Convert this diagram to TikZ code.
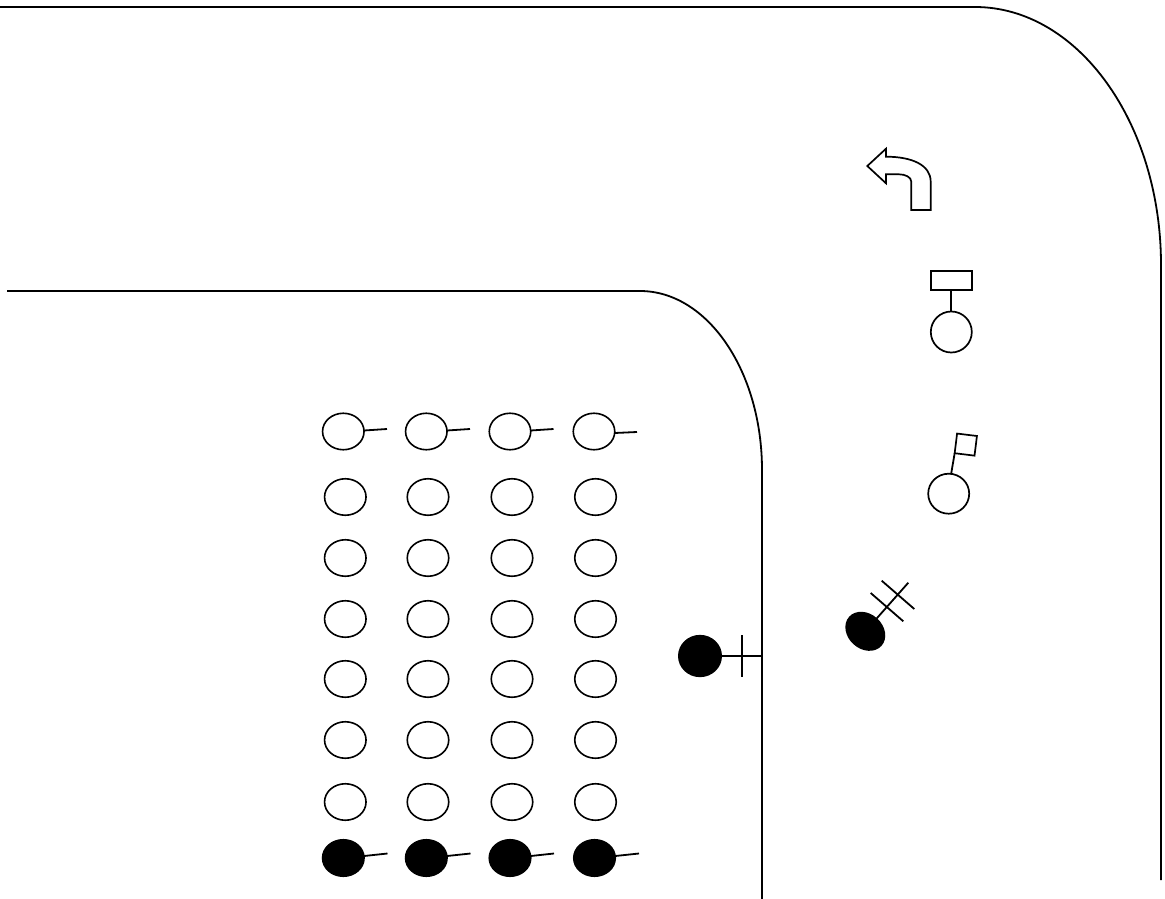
\documentclass[tikz,border=0pt]{standalone}
\usetikzlibrary{shapes.geometric}
\tikzset{
  ln/.style={line width=1.8pt,black},
  cell/.style={ellipse,draw=black,line width=1.6pt,fill=white,minimum width=41.5pt,minimum height=36.5pt,inner sep=0pt,outer sep=0pt},
  blackcell/.style={cell,fill=black},
  sign/.style={draw=black,line width=1.7pt,fill=white,inner sep=0pt,outer sep=0pt},
}
\begin{document}
\begin{tikzpicture}[x=1pt,y=-1pt]
\useasboundingbox (0,0) rectangle (1165,899);
% road edges
\draw[ln] (0,7) -- (975,7) arc[start angle=-90,end angle=0,x radius=186,y radius=258] -- (1161,880);
\draw[ln] (7,291) -- (640,291) arc[start angle=-90,end angle=0,x radius=122,y radius=179] -- (762,899);
% top row
\foreach \n/\x/\ex/\sy/\ey in {a/343.3/387/430.5/429,b/426.3/470/430.5/429,c/510/553.5/430.5/429,d/594/637/433/432}{
  \node[cell] (t\n) at (\x,431.5) {};
  \coordinate (te\n) at (\ex,\ey);
  \draw[ln] (t\n.east |- 0,\sy) -- (te\n);
}
% white rows
\foreach \r/\y in {1/497,2/558,3/619,4/679,5/740,6/802}{
  \foreach \n/\x in {a/345.3,b/428,c/512,d/595.5}{
    \node[cell] (r\r\n) at (\x,\y) {};
  }
}
% bottom row
\foreach \n/\x/\ex in {a/343.3/387.5,b/426.3/470.5,c/510/554,d/594.5/639}{
  \node[blackcell] (b\n) at (\x,858) {};
  \coordinate (be\n) at (\ex,853.5);
  \draw[ln] (b\n.east |- 0,856) -- (be\n);
}
% turn arrow
\draw[sign] (867.3,166) -- (886,148.7) -- (886,156.7) .. controls (912,156.7) and (930.7,165) .. (930.7,181.7)
  -- (930.7,210) -- (911.3,210) -- (911.3,181.7) .. controls (911.3,177) and (905,174.3) .. (899,174.3)
  -- (886,174.3) -- (886,183.3) -- cycle;
% rectangle signal
\node[sign,rectangle,minimum width=41pt,minimum height=19pt] (rs) at (951.3,280.6) {};
\node[sign,circle,minimum size=41pt] (rc) at (951.3,332) {};
\draw[ln] (rs.south) -- (rc.north);
% flag signal
\node[sign,rectangle,rotate=-7,minimum width=20pt,minimum height=19.8pt] (fs) at (965.8,444.6) {};
\node[sign,ellipse,minimum width=41pt,minimum height=40pt] (fc) at (948.7,493.7) {};
\draw[ln] (fs.south west) -- (fc.83);
% black tilted signal
\node[ellipse,fill=black,rotate=-42,minimum width=43.5pt,minimum height=35pt,inner sep=0pt,outer sep=0pt] (tb) at (865.3,631.3) {};
\coordinate (tend) at (908.3,582.7);
\coordinate (b1a) at (870.7,593); \coordinate (b1b) at (903.3,621.3);
\coordinate (b2a) at (881.7,580.7); \coordinate (b2b) at (914.3,609);
\draw[ln] (tb.center) -- (tend);
\draw[ln] (b1a) -- (b1b);
\draw[ln] (b2a) -- (b2b);
% black wall signal
\node[ellipse,fill=black,minimum width=44pt,minimum height=42.3pt,inner sep=0pt,outer sep=0pt] (wb) at (700,656) {};
\coordinate (wend) at (762,656);
\coordinate (wa) at (742,635); \coordinate (wc) at (742,677.3);
\draw[ln] (wb.east) -- (wend);
\draw[ln] (wa) -- (wc);
\end{tikzpicture}
\end{document}
